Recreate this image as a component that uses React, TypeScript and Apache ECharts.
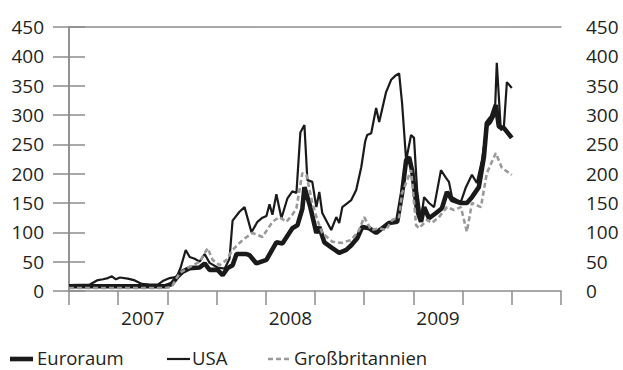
import React, { useEffect, useRef } from "react";
import * as echarts from "echarts";

// time in months since January 2007
const yearLabels: Record<number, string> = { 6: "2007", 18: "2008", 30: "2009" };
const yTicks = { min: 0, max: 450, interval: 50 };

const euroT = [0, 7.78, 8.35, 8.84, 9.24, 9.81, 10.62, 11.03, 11.43, 12.08, 12.49, 12.89, 13.3, 13.62, 14.43, 14.68, 15.24, 16.05, 16.86, 17.35, 18.16, 18.57, 18.97, 19.14, 19.62, 20.11, 20.35, 20.76, 21.41, 21.97, 22.54, 22.95, 23.43, 23.84, 24.41, 24.97, 25.46, 26.03, 26.68, 27.08, 27.41, 27.65, 27.89, 28.3, 28.62, 28.87, 29.27, 29.84, 30.32, 30.73, 31.14, 31.86, 32.35, 32.76, 33.32, 33.73, 33.97, 34.38, 34.7, 34.95, 35.35, 36.0];
const euroV = [8, 8, 12, 25, 33, 39, 40, 47, 36, 36, 27, 39, 44, 63, 63, 61, 47, 53, 83, 81, 107, 112, 140, 177, 143, 99, 109, 83, 73, 65, 70, 78, 90, 109, 107, 99, 107, 116, 118, 167, 223, 228, 206, 138, 118, 143, 124, 133, 141, 169, 155, 150, 150, 160, 177, 228, 286, 297, 317, 280, 278, 261];

const usaT = [0, 1.7, 2.27, 2.76, 3.16, 3.49, 3.81, 4.14, 4.78, 5.35, 5.92, 6.57, 7.22, 7.62, 8.19, 8.76, 9.08, 9.49, 9.81, 10.22, 10.62, 11.03, 11.43, 12.08, 12.65, 13.05, 13.3, 13.86, 14.27, 14.84, 15.32, 15.73, 16.05, 16.3, 16.54, 16.86, 17.27, 17.76, 18.16, 18.49, 18.81, 19.14, 19.38, 19.78, 20.11, 20.35, 20.59, 21.32, 21.73, 21.97, 22.22, 22.95, 23.35, 23.76, 24.08, 24.24, 24.57, 24.97, 25.22, 25.78, 26.19, 26.59, 26.84, 27.08, 27.41, 27.81, 28.05, 28.3, 28.62, 28.87, 29.27, 29.68, 30.24, 30.65, 30.89, 31.14, 31.54, 31.86, 32.27, 32.76, 33.16, 33.57, 33.97, 34.3, 34.62, 34.78, 35.11, 35.35, 35.6, 36.0];
const usaV = [10, 11, 18, 20, 22, 25, 20, 23, 21, 18, 12, 11, 11, 17, 22, 24, 40, 70, 58, 55, 50, 63, 48, 40, 38, 55, 120, 135, 143, 100, 118, 125, 128, 148, 130, 165, 124, 158, 170, 167, 270, 283, 189, 186, 143, 169, 133, 104, 126, 116, 143, 155, 172, 211, 255, 266, 269, 312, 288, 339, 360, 368, 371, 320, 223, 266, 261, 172, 121, 160, 150, 143, 206, 193, 186, 160, 155, 152, 177, 198, 184, 223, 280, 287, 300, 389, 274, 278, 356, 346];

const gbT = [0, 7.78, 8.35, 9.0, 9.81, 10.62, 11.27, 11.68, 12.24, 12.81, 13.3, 14.11, 14.92, 15.73, 16.54, 17.11, 17.68, 18.16, 18.49, 18.97, 19.3, 19.78, 20.19, 20.59, 21.41, 22.14, 22.95, 23.59, 24.0, 24.57, 25.22, 25.78, 26.27, 26.84, 27.08, 27.49, 27.81, 28.22, 28.46, 29.11, 29.51, 30.08, 30.73, 31.3, 31.86, 32.35, 32.76, 33.49, 33.97, 34.7, 35.19, 36.0];
const gbV = [5, 5, 7, 31, 41, 50, 73, 53, 44, 53, 70, 87, 99, 92, 118, 126, 118, 130, 141, 201, 198, 150, 121, 99, 84, 82, 87, 104, 126, 104, 107, 104, 121, 126, 167, 189, 206, 112, 107, 121, 116, 126, 143, 138, 143, 101, 150, 143, 201, 235, 210, 198];

const seriesNames = ["Euroraum", "USA", "Großbritannien"];

const zip = (t: number[], v: number[]) => t.map((x, i) => [x, v[i]]);

const FONT = "Open Sans";
const AXIS_COLOR = "#8c8c8c";
const TEXT_COLOR = "#231f20";
const LINE_STYLES = [
  { color: "#1a1a1a", width: 4.6, type: "solid" as any },
  { color: "#1a1a1a", width: 2.2, type: "solid" as any },
  { color: "#9a9a9a", width: 2.6, type: [5, 3] as any },
];
const LEGEND_POS = [
  { iconX: 10, textX: 37 },
  { iconX: 167, textX: 192 },
  { iconX: 268, textX: 294 },
];

export default function App() {
  const ref = useRef<HTMLDivElement>(null);
  useEffect(() => {
    if (!ref.current) return;
    const chart = echarts.init(ref.current, null, { renderer: "svg" });
    const yAxisBase = {
      type: "value" as const,
      min: yTicks.min,
      max: yTicks.max,
      interval: yTicks.interval,
      splitLine: { show: false },
      axisLine: { show: true, lineStyle: { color: AXIS_COLOR, width: 1.5 } },
      axisTick: { show: true, inside: false, length: 16, lineStyle: { color: AXIS_COLOR, width: 1.5 } },
      axisLabel: { color: TEXT_COLOR, fontSize: 19, fontFamily: FONT, margin: 25 },
    };
    const legendGraphics: any[] = [];
    seriesNames.forEach((name, i) => {
      const ls = LINE_STYLES[i];
      const p = LEGEND_POS[i];
      legendGraphics.push({
        type: "line",
        shape: { x1: p.iconX, y1: 359, x2: p.iconX + 23, y2: 359 },
        style: {
          stroke: ls.color,
          lineWidth: ls.width,
          lineDash: Array.isArray(ls.type) ? ls.type : null,
        },
      });
      legendGraphics.push({
        type: "text",
        x: p.textX,
        y: 357,
        style: {
          text: name,
          fill: TEXT_COLOR,
          fontSize: 18.5,
          lineHeight: 17,
          fontFamily: FONT,
          textAlign: "left",
          textVerticalAlign: "middle",
        },
      });
    });
    chart.setOption({
      animation: false,
      grid: { left: 69, right: 62, top: 27, bottom: 79, containLabel: false },
      graphic: legendGraphics,
      xAxis: [
        {
          type: "value",
          min: 0,
          max: 40,
          interval: 4,
          position: "bottom",
          splitLine: { show: false },
          axisLine: { show: true, onZero: false, lineStyle: { color: AXIS_COLOR, width: 1.5 } },
          axisTick: { show: true, inside: false, length: 14, lineStyle: { color: AXIS_COLOR, width: 1.5 } },
          axisLabel: { show: false },
        },
        {
          type: "value",
          min: 0,
          max: 40,
          interval: 6,
          position: "bottom",
          splitLine: { show: false },
          axisLine: { show: false },
          axisTick: { show: false },
          axisLabel: {
            show: true,
            color: TEXT_COLOR,
            fontSize: 19,
            fontFamily: FONT,
            margin: 17,
            showMinLabel: true,
            showMaxLabel: false,
            formatter: (v: number) => yearLabels[v] || "",
          },
        },
        {
          type: "value",
          min: 0,
          max: 40,
          position: "top",
          splitLine: { show: false },
          axisLine: { show: true, onZero: false, lineStyle: { color: AXIS_COLOR, width: 1.5 } },
          axisTick: { show: false },
          axisLabel: { show: false },
        },
      ],
      yAxis: [
        { ...yAxisBase, position: "left" },
        { ...yAxisBase, position: "right" },
      ],
      series: [
        { t: euroT, v: euroV },
        { t: usaT, v: usaV },
        { t: gbT, v: gbV },
      ].map((s, i) => ({
        name: seriesNames[i],
        type: "line",
        data: zip(s.t, s.v),
        showSymbol: false,
        symbol: "none",
        lineStyle: LINE_STYLES[i],
        itemStyle: { color: LINE_STYLES[i].color },
      })),
    });
    return () => chart.dispose();
  }, []);
  return <div ref={ref} style={{ width: 623, height: 370, position: "absolute", left: 0, top: 0 }} />;
}
